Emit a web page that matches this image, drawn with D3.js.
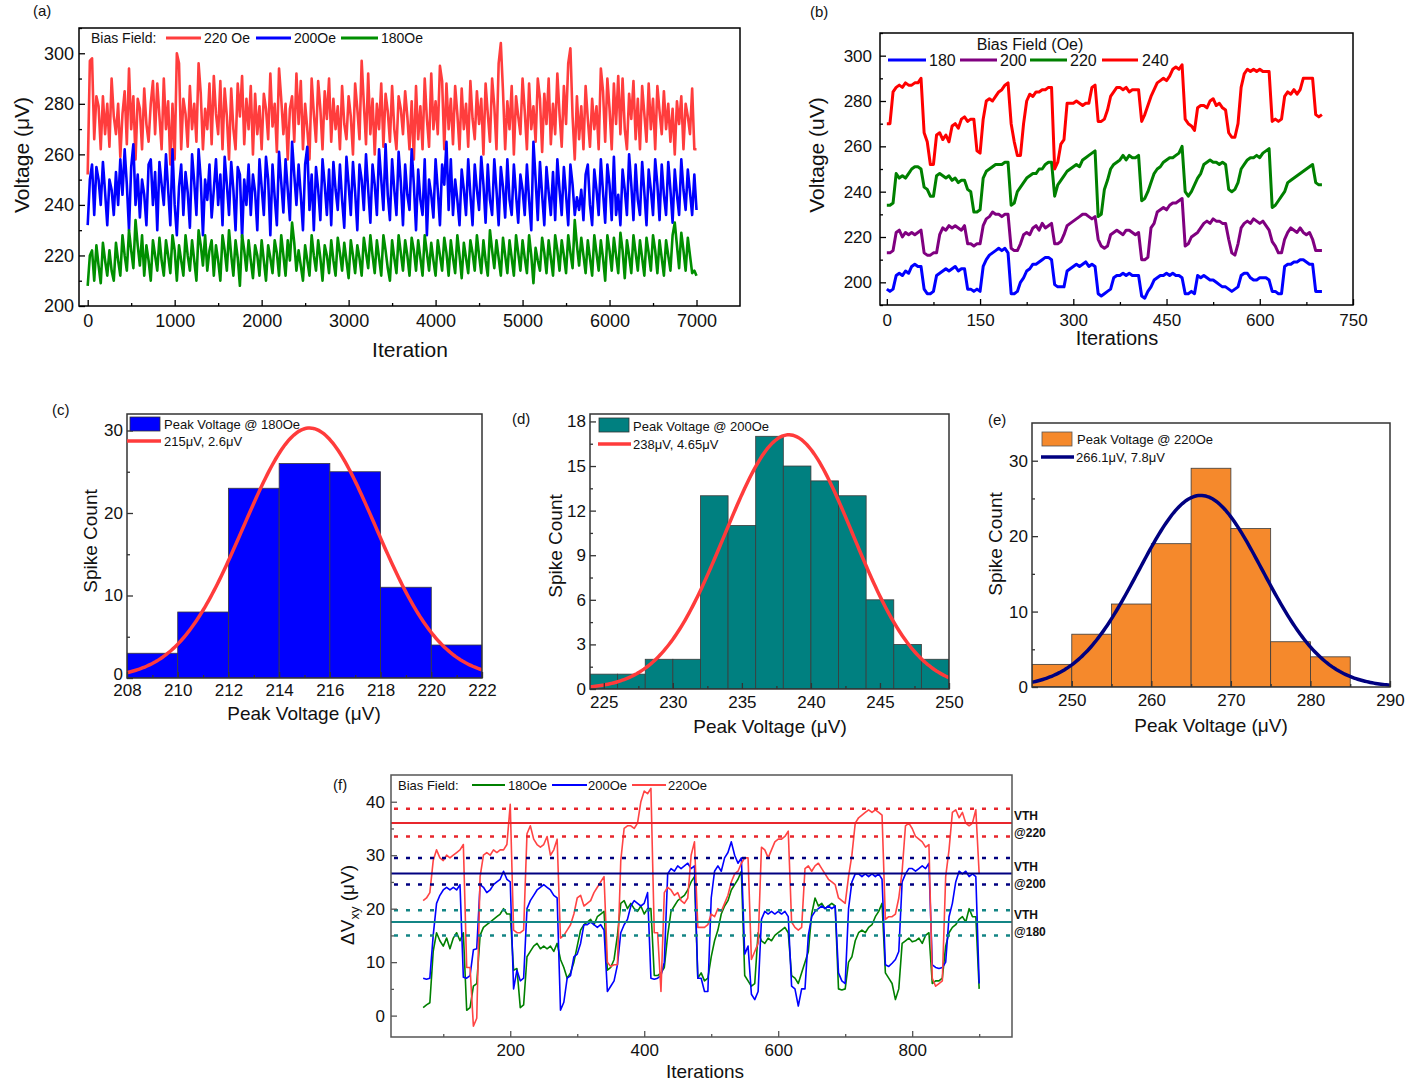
<!DOCTYPE html>
<html><head><meta charset="utf-8">
<script src="https://cdn.jsdelivr.net/npm/d3@7"></script>
<style>body{margin:0;background:#fff}svg{display:block}</style>
</head><body>
<svg id="c" width="1419" height="1087"></svg>
<script>
// ---------------- DATA ----------------
// (a) voltage vs iteration, sampled every 25 iterations from 0 to 7000
const aStart = 0, aStep = 25;
const aRed220 = [
252,297,298,266,283,279,262,283,268,280,
263,290,275,268,280,259,276,285,264,294,
270,283,258,282,278,262,286,272,265,280,
289,268,288,275,262,290,270,281,256,280,
258,300,296,262,282,276,263,287,270,280,
265,296,284,262,278,270,288,264,291,276,
268,289,262,286,275,258,286,270,262,288,
275,291,264,282,270,287,260,284,268,279,
262,284,278,266,292,271,280,261,294,282,
268,280,258,278,283,265,292,272,289,262,
280,270,258,290,276,265,289,278,262,285,
274,290,265,282,270,279,262,287,272,266,
283,275,260,288,278,266,297,280,264,292,
268,282,260,280,270,288,263,284,277,265,
287,270,262,283,278,268,285,275,262,281,
258,287,266,279,262,290,274,263,292,270,
281,268,295,289,262,288,270,282,264,287,
276,262,286,270,280,263,289,274,266,285,
272,282,260,288,276,265,290,279,262,296,
304,285,262,281,270,287,260,283,275,268,
290,277,262,288,270,279,265,290,282,261,
284,272,290,264,280,268,292,276,263,287,
272,296,302,275,258,283,266,279,262,287,
274,263,282,270,279,262,294,285,265,290,
278,262,288,272,291,268,290,270,262,284,
274,289,266,282,262,287,276,265,288,270,
282,262,287,277,268,285,270,280,265,278,
260,281,272,283,262,280,275,268,286,262,
262];
const aBlue200 = [
232,250,256,236,255,250,240,257,245,232,
250,246,236,253,240,258,244,262,248,230,
255,264,240,252,235,250,244,232,256,258,
240,253,230,257,248,240,260,246,232,262,
240,228,247,256,236,253,245,231,260,249,
236,262,250,228,250,242,256,235,246,258,
240,252,232,259,248,236,257,246,230,255,
252,227,250,240,256,236,252,245,230,258,
247,236,259,250,228,256,243,232,261,249,
237,258,246,234,265,252,240,256,244,230,
256,263,238,252,230,255,246,234,258,248,
236,254,232,257,246,238,256,242,231,259,
248,236,257,245,230,256,250,238,260,246,
233,256,248,236,262,250,238,264,244,234,
258,246,236,261,249,232,256,244,238,262,
248,230,254,242,236,258,228,250,244,235,
258,246,232,256,248,265,238,258,236,250,
242,232,254,246,236,258,244,232,256,246,
238,259,248,233,256,242,236,258,246,232,
255,247,235,258,242,236,256,244,233,252,
246,236,256,242,230,265,250,234,257,244,
232,255,245,236,253,234,258,246,236,255,
244,232,256,248,236,243,238,246,234,252,
256,240,232,254,246,236,258,245,233,256,
248,234,259,236,244,232,254,246,236,260,
248,234,256,242,236,257,245,232,254,246,
236,258,248,234,256,244,236,257,246,233,
254,244,236,258,246,238,254,245,236,252,
238];
const aGreen180 = [
208,220,222,210,224,216,209,225,218,212,
222,214,210,225,218,212,228,220,214,230,
222,215,234,224,216,228,212,224,218,210,
226,220,214,227,218,212,226,220,213,228,
222,210,224,218,212,228,220,214,226,218,
210,230,224,216,228,214,222,226,212,224,
218,210,228,222,214,230,220,212,226,219,
208,228,222,214,226,218,211,224,220,212,
226,218,210,224,219,213,226,221,212,228,
220,212,226,218,233,225,214,222,216,210,
224,218,212,228,220,214,226,219,210,224,
220,213,226,218,212,227,221,214,225,218,
211,226,220,213,224,219,212,227,221,215,
228,220,213,226,219,212,228,222,215,210,
226,219,213,228,221,214,226,220,212,227,
222,214,226,219,212,228,221,214,225,218,
212,226,220,214,227,221,212,226,219,213,
228,220,211,225,219,213,226,221,214,228,
220,213,226,218,212,230,222,215,226,219,
212,227,220,213,226,219,212,228,221,214,
226,219,213,228,220,209,223,218,214,227,
221,213,226,219,212,228,222,214,226,220,
213,228,221,215,234,224,216,227,220,213,
226,219,212,228,221,214,226,219,210,228,
222,214,227,220,213,229,222,211,226,220,
213,228,221,214,226,219,212,227,221,214,
228,222,213,226,219,212,226,220,214,228,
233,224,215,229,222,214,227,220,213,214,
212];
const aLegend = ["220 Oe","200Oe","180Oe"];

// (b) voltage vs iterations, sampled every 5 iterations from 0 to 700
const bStart = 0, bStep = 5;
const b180 = [
197,196,197,203,204,203,205,204,207,208,
207,207,197,195,195,196,203,204,205,206,
205,206,207,205,206,206,197,197,196,197,
196,207,210,212,213,214,215,214,215,213,
195,195,196,200,202,205,206,208,208,209,
210,211,211,210,199,198,198,198,205,206,
207,208,207,208,209,207,208,207,195,194,
195,196,197,202,203,203,204,203,204,203,
203,203,194,193,196,198,201,202,203,203,
204,203,204,203,203,202,195,195,196,195,
203,202,203,202,201,201,200,199,198,198,
197,196,197,198,203,204,204,202,201,201,
202,202,202,201,196,196,195,195,207,208,
208,209,209,210,210,209,208,208,196,196,
196];
const b200 = [
213,213,214,222,223,220,222,221,222,221,
222,223,213,212,212,213,213,221,224,223,
225,224,225,224,223,225,217,217,216,217,
217,225,228,229,231,230,230,229,230,230,
215,214,214,217,221,222,221,224,225,223,
226,224,225,226,217,217,218,221,225,226,
227,228,229,230,230,229,228,229,219,216,
215,216,221,222,223,222,221,223,223,222,
221,222,210,210,211,224,226,231,232,233,
232,234,235,235,236,237,216,217,220,221,
222,224,226,227,226,228,227,227,226,226,
219,213,212,217,224,226,227,226,228,227,
226,227,225,223,218,216,213,213,219,222,
224,223,222,224,222,221,222,219,214,214,
214];
const b220 = [
234,234,235,248,246,247,246,248,250,251,
251,250,242,241,238,238,247,248,247,246,
247,245,246,244,245,245,241,240,231,231,
232,246,249,250,251,252,252,252,253,253,
234,235,240,242,244,246,247,248,248,250,
250,252,253,253,238,243,245,247,249,250,
251,252,251,254,255,256,257,258,229,230,
241,245,250,252,253,254,256,254,256,255,
255,256,236,237,240,244,248,250,251,253,
254,255,255,256,257,260,240,238,240,243,
246,248,252,253,254,253,253,252,253,252,
241,240,241,244,250,252,254,255,255,256,
255,257,258,259,233,234,236,238,240,244,
245,246,247,248,249,250,251,252,244,243,
243];
const b240 = [
270,270,284,286,287,286,288,287,287,288,
288,290,266,262,252,252,265,266,263,265,
262,269,270,268,272,273,271,272,272,258,
257,272,280,281,280,282,284,285,287,288,
270,262,256,256,270,280,283,282,284,284,
285,285,286,286,250,253,261,263,279,279,
279,280,279,278,279,279,286,287,271,271,
272,276,282,284,286,286,285,286,284,285,
285,285,271,274,278,282,285,288,289,290,
289,291,294,295,294,296,272,270,269,267,
277,278,278,277,280,281,278,279,277,276,
266,264,264,270,286,292,294,293,294,293,
294,293,293,293,271,272,271,272,282,284,
283,285,283,285,290,290,290,290,274,273,
274];
const bLegend = ["180","200","220","240"];

// (c)(d)(e) histograms of peak voltage
const cEdges = [208,210,212,214,216,218,220,222];
const cCounts = [3,8,23,26,25,11,4];
const cFit = {mean:215.2, sigma:2.6, amp:30.3};
const dEdges = [224,226,228,230,232,234,236,238,240,242,244,246,248,250];
const dCounts = [1,1,2,2,13,11,17,15,14,13,6,3,2];
const dFit = {mean:238.4, sigma:4.65, amp:17.1};
const eEdges = [245,250,255,260,265,270,275,280,285];
const eCounts = [3,7,11,19,29,21,6,4];
const eFit = {mean:266.2, sigma:7.8, amp:25.4};

// (f) ΔVxy vs iterations, sampled every 5 iterations from 70 to 900
const fStart = 70, fStep = 5;
const f180 = [
1.5,2,2.4,12,15.5,14,13,14.5,12.5,14.5,
15.5,14,15.5,1,1.5,5.5,6,15,16.5,17,
17.5,18,18.5,19,20,19,19,8.5,8.8,1.5,
2,11,12,13,13.5,12.5,13,12.5,13,12,
13.5,10.5,9,7,8,10,13,16,17,17.5,
18,17,18.5,19,19.5,8.5,9,10.5,15,21,
21.5,20,21,20,19.5,20.5,19,20,20,7.5,
7.5,8,9,15,19.5,20.5,21.5,22,22.5,23.5,
25,26,7,8,6.5,7,11,14,16,19,
20.5,21.5,23.5,24.5,25.5,27,7.5,6.5,5.5,6,
15.5,14,13.5,14.5,14,15,15.5,16,16.5,15.5,
7.5,7,6,8,10,12,19,22,20.5,21,
20,20.5,21,20.5,5,4.8,5,10,11,14,
15.5,16,15.5,16.5,17,18.5,19.5,21,8,7,
6,3,5,13.5,14,14.5,13.8,14,14.5,13.5,
15,15.5,6,6.5,6.5,7,13,15.5,16.5,17,
18,18.5,17.5,20,18.5,18.5,5];
const f200 = [
7,6.8,7,15,21,22.5,23.5,24,23.5,24,
23.5,24.5,7.2,7,7.5,12.3,12.5,24.5,24,23,
23.5,24.5,25,25.5,27,25.5,25,5,8.5,6.5,
7,20,21.5,22.5,23.5,24,24.5,24,23.5,22.5,
22,1,2.5,7,7.5,11,11.5,13.5,17,17,
17.5,17,16.5,17,16,4.5,5.5,6.5,9.5,15.5,
17,18,20.5,21.5,21,20.5,21,23,7,6.8,
7,7.5,10,26.5,27.5,27,28,27.5,28,28.5,
27.5,28,7,7,4.5,4.5,22,27,28,27,
29.5,30.5,32.5,30,28.5,29.5,11.5,13,4,3,
4.5,18,19.5,19,19.5,19,19.5,19,19.5,18.5,
5.5,5,1.8,5,5,15,18.5,19.5,20,20.5,
20,20.5,20,20.5,8,6.5,6,20,25,26.5,
26.5,26,26.5,26,26.5,26,26.5,25.5,9.5,9.2,
9.8,10.5,12,25,26.5,27.5,27.5,27,27.5,28,
27.5,28.5,9.5,9,8.8,9,10,18.5,21,25,
27,26.5,27,26,26.5,26,6];
const f220 = [
21.5,22,23,29,31,29.5,29,30,29.5,30,
30.5,31,32,9,9,-2,-0.5,26,30,30.5,
30,31,30.5,31,31,32,39.5,16,15.5,15.5,
16,34,35.5,33,32,31.5,32,33.5,30,31,
33,14.5,15,16,17,19,22,22.5,20.5,21,
21.5,23,24,25,26,10,9.2,9.5,9.5,29,
35,35.5,35.5,35,36,40,42,41.5,42.5,15.5,
15.5,4.5,23,24,23.5,22.5,23,21.5,21,22,
30,32.5,16.5,16.5,16.5,17,19,18.5,20,19.5,
21,22.5,25,26.5,27,28.5,29.5,29.5,10.5,12,
13.5,31.5,31,29.5,31,32.5,33,33,33.5,34.5,
17.5,16.5,16,16.5,27.5,28,27,28,28.5,27.5,
26.5,25.5,25,24.5,22,21.5,21,26,30,36,
37,37.5,38,38.5,38,38.5,38,37.5,18,18.5,
18.5,19,22,27,35.5,36,35,33.5,33,32.5,
31.5,32,7,5.5,6,6.5,26,31,38,38.5,
37,38,36,35.5,36,38.5,26.5];
const fLegend = ["180Oe","200Oe","220Oe"];
// thresholds: [mean, upper, lower]
const fVth220 = [36.0, 38.7, 33.5];
const fVth200 = [26.6, 29.5, 24.5];
const fVth180 = [17.5, 19.7, 15.0];
const fVthLabels = [["VTH","@220"],["VTH","@200"],["VTH","@180"]];

// ---------------- DRAWING ----------------
const FONT = '"Liberation Sans", Arial, Helvetica, sans-serif';
const svg = d3.select("#c");

function panel(o){
  const x = d3.scaleLinear().domain(o.xd).range([o.l, o.r]);
  const y = d3.scaleLinear().domain(o.yd).range([o.b, o.t]);
  const g = svg.append("g");
  const cid = "clip-" + o.id;
  g.append("clipPath").attr("id", cid).append("rect")
    .attr("x", o.l).attr("y", o.t).attr("width", o.r - o.l).attr("height", o.b - o.t);
  const plot = g.append("g").attr("clip-path", `url(#${cid})`);
  const over = g.append("g");
  return {x, y, g, plot, over, o};
}
function styleAxis(sel, col, fs){
  sel.attr("font-size", null).attr("font-family", null);
  sel.select(".domain").remove();
  sel.selectAll("line").attr("stroke", col).attr("stroke-width", 1.3);
  sel.selectAll("text").attr("font-size", fs).attr("font-family", FONT).attr("fill", "#111");
}
function finish(p){
  const o = p.o, g = p.over, col = o.frame || "#000";
  let s = g.append("g").attr("transform", `translate(0,${o.b})`)
    .call(d3.axisBottom(p.x).tickValues(o.xMinor).tickSize(-3).tickFormat(""));
  styleAxis(s, col, o.fs);
  s = g.append("g").attr("transform", `translate(0,${o.b})`)
    .call(d3.axisBottom(p.x).tickValues(o.xMajor).tickSize(-6).tickPadding(o.xPad).tickFormat(d => d));
  styleAxis(s, col, o.fs);
  s = g.append("g").attr("transform", `translate(${o.l},0)`)
    .call(d3.axisLeft(p.y).tickValues(o.yMinor).tickSize(-3).tickFormat(""));
  styleAxis(s, col, o.fs);
  s = g.append("g").attr("transform", `translate(${o.l},0)`)
    .call(d3.axisLeft(p.y).tickValues(o.yMajor).tickSize(-6).tickPadding(o.yPad).tickFormat(d => d));
  styleAxis(s, col, o.fs);
  if (o.zeroLift) s.selectAll("text").filter(d => d === 0).attr("y", -o.zeroLift);
  g.append("rect").attr("x", o.l).attr("y", o.t).attr("width", o.r - o.l).attr("height", o.b - o.t)
    .attr("fill", "none").attr("stroke", col).attr("stroke-width", 1.5);
}
function text(x, y, str, fs, opts = {}){
  const t = svg.append("text").attr("x", x).attr("y", y).attr("dy", "0.35em")
    .attr("font-family", FONT).attr("font-size", fs).attr("fill", opts.fill || "#111")
    .attr("text-anchor", opts.anchor || "start").text(str);
  if (opts.bold) t.attr("font-weight", "bold");
  return t;
}
function vtext(x, y, str, fs){
  return svg.append("text").attr("transform", `translate(${x},${y}) rotate(-90)`).attr("dy", "0.35em")
    .attr("font-family", FONT).attr("font-size", fs).attr("fill", "#111").attr("text-anchor", "middle").text(str);
}
function legLine(x1, x2, y, col, w){
  svg.append("line").attr("x1", x1).attr("x2", x2).attr("y1", y).attr("y2", y)
    .attr("stroke", col).attr("stroke-width", w);
}
function series(p, vals, start, step, col, w){
  const line = d3.line().x((d, i) => p.x(start + i * step)).y(d => p.y(d));
  p.plot.append("path").datum(vals).attr("d", line).attr("fill", "none")
    .attr("stroke", col).attr("stroke-width", w).attr("stroke-linejoin", "round");
}
const range = (a, b, s) => d3.range(a, b + s / 2, s);

// ----- (a)
{
  const p = panel({id:"a", l:79, r:740, t:28, b:306, xd:[-100,7500], yd:[200,310],
    xMajor:range(0,7000,1000), xMinor:range(500,7000,1000), yMajor:range(200,300,20), yMinor:range(210,310,20),
    fs:18, xPad:8, yPad:5});
  series(p, aRed220, aStart, aStep, "#ff3d3d", 2.6);
  series(p, aBlue200, aStart, aStep, "#0000ff", 2.6);
  series(p, aGreen180, aStart, aStep, "#008f00", 2.6);
  finish(p);
  text(91, 38, "Bias Field:", 14);
  legLine(166, 201, 38, "#ff3d3d", 3); text(204, 38, aLegend[0], 14);
  legLine(256, 291, 38, "#0000ff", 3); text(294, 38, aLegend[1], 14);
  legLine(341, 378, 38, "#008f00", 3); text(381, 38, aLegend[2], 14);
  vtext(22, 155, "Voltage (\u03bcV)", 21);
  text(410, 350, "Iteration", 21, {anchor:"middle"});
  text(33, 11, "(a)", 15);
}
// ----- (b)
{
  const p = panel({id:"b", l:880, r:1353, t:33, b:305, xd:[-11,750], yd:[190,310],
    xMajor:range(0,750,150), xMinor:range(75,750,150), yMajor:range(200,300,20), yMinor:range(190,310,20),
    fs:17, xPad:9, yPad:8});
  series(p, b180, bStart, bStep, "#0000ff", 3);
  series(p, b200, bStart, bStep, "#800080", 3);
  series(p, b220, bStart, bStep, "#008000", 3);
  series(p, b240, bStart, bStep, "#ff0000", 3);
  finish(p);
  text(1030, 44, "Bias Field (Oe)", 16, {anchor:"middle"});
  legLine(888, 926, 60, "#0000ff", 3); text(929, 60, bLegend[0], 16);
  legLine(960, 997, 60, "#800080", 3); text(1000, 60, bLegend[1], 16);
  legLine(1030, 1067, 60, "#008000", 3); text(1070, 60, bLegend[2], 16);
  legLine(1102, 1138, 60, "#ff0000", 3); text(1142, 60, bLegend[3], 16);
  vtext(817, 155, "Voltage (uV)", 21);
  text(1117, 338, "Iterations", 20, {anchor:"middle"});
  text(810, 12, "(b)", 15);
}
// ----- histograms
function hist(cfg){
  const p = panel(cfg);
  p.plot.selectAll("rect.bar").data(cfg.counts).join("rect").attr("class", "bar")
    .attr("x", (d, i) => p.x(cfg.edges[i]))
    .attr("width", (d, i) => p.x(cfg.edges[i + 1]) - p.x(cfg.edges[i]))
    .attr("y", d => p.y(d)).attr("height", d => p.y(0) - p.y(d))
    .attr("fill", cfg.fill).attr("stroke", "#3a3a3a").attr("stroke-width", 0.8);
  const f = cfg.fit;
  const xs = d3.range(cfg.xd[0], cfg.xd[1] + 0.001, (cfg.xd[1] - cfg.xd[0]) / 200);
  const line = d3.line().x(d => p.x(d)).y(d => p.y(f.amp * Math.exp(-0.5 * ((d - f.mean) / f.sigma) ** 2)));
  p.plot.append("path").datum(xs).attr("d", line).attr("fill", "none")
    .attr("stroke", cfg.curve).attr("stroke-width", 3.5);
  finish(p);
  return p;
}
{
  hist({id:"c", l:127, r:482, t:414, b:678, xd:[208,222], yd:[0,32],
    xMajor:range(208,222,2), xMinor:range(209,221,2), yMajor:[0,10,20,30], yMinor:[5,15,25],
    fs:17, xPad:6, yPad:4, zeroLift:4, frame:"#333", edges:cEdges, counts:cCounts, fit:cFit, fill:"#0000ff", curve:"#ff3b3b"});
  svg.append("rect").attr("x",130).attr("y",417).attr("width",30).attr("height",14).attr("fill","#0000ff").attr("stroke","#333").attr("stroke-width",0.8);
  text(164, 424, "Peak Voltage @ 180Oe", 13);
  legLine(127, 161, 441, "#ff3b3b", 3.5); text(164, 441, "215\u03bcV, 2.6\u03bcV", 13);
  vtext(90, 541, "Spike Count", 19);
  text(304, 713, "Peak Voltage (\u03bcV)", 19, {anchor:"middle"});
  text(52, 410, "(c)", 15);
}
{
  hist({id:"d", l:590, r:949, t:414, b:689, xd:[224,250], yd:[0,18.5],
    xMajor:range(225,250,5), xMinor:range(227.5,247.5,5), yMajor:range(0,18,3), yMinor:range(1.5,16.5,3),
    fs:17, xPad:7, yPad:4, frame:"#333", edges:dEdges, counts:dCounts, fit:dFit, fill:"#008080", curve:"#ff3b3b"});
  svg.append("rect").attr("x",599).attr("y",418).attr("width",30).attr("height",14).attr("fill","#008080").attr("stroke","#333").attr("stroke-width",0.8);
  text(633, 426, "Peak Voltage @ 200Oe", 13);
  legLine(598, 631, 444, "#ff3b3b", 3.5); text(633, 444, "238\u03bcV, 4.65\u03bcV", 13);
  vtext(555, 546, "Spike Count", 19);
  text(770, 726, "Peak Voltage (\u03bcV)", 19, {anchor:"middle"});
  text(512, 419, "(d)", 15);
}
{
  hist({id:"e", l:1032, r:1390, t:423, b:687, xd:[245,290], yd:[0,35],
    xMajor:range(250,290,10), xMinor:range(255,285,10), yMajor:[0,10,20,30], yMinor:[5,15,25],
    fs:17, xPad:7, yPad:4, frame:"#333", edges:eEdges, counts:eCounts, fit:eFit, fill:"#f5892c", curve:"#000080"});
  svg.append("rect").attr("x",1042).attr("y",432).attr("width",30).attr("height",14).attr("fill","#f5892c").attr("stroke","#555").attr("stroke-width",0.8);
  text(1077, 439, "Peak Voltage @ 220Oe", 13);
  legLine(1041, 1074, 457, "#000080", 3.5); text(1076, 457, "266.1\u03bcV, 7.8\u03bcV", 13);
  vtext(995, 544, "Spike Count", 19);
  text(1211, 725, "Peak Voltage (\u03bcV)", 19, {anchor:"middle"});
  text(988, 420, "(e)", 15);
}
// ----- (f)
{
  const p = panel({id:"f", l:391, r:1012, t:775, b:1037, xd:[22,949], yd:[-4,45],
    xMajor:[200,400,600,800], xMinor:[100,300,500,700,900], yMajor:[0,10,20,30,40], yMinor:[5,15,25,35],
    fs:17, xPad:7, yPad:6, frame:"#555"});
  series(p, f180, fStart, fStep, "#008000", 1.6);
  series(p, f200, fStart, fStep, "#0000ff", 1.6);
  series(p, f220, fStart, fStep, "#ff4444", 1.6);
  const thr = [[fVth220, "#e8262c"], [fVth200, "#000080"], [fVth180, "#138585"]];
  thr.forEach(([v, c]) => {
    p.plot.append("line").attr("x1", p.x.range()[0]).attr("x2", p.x.range()[1])
      .attr("y1", p.y(v[0])).attr("y2", p.y(v[0])).attr("stroke", c).attr("stroke-width", 2);
    [v[1], v[2]].forEach(dv => p.plot.append("line").attr("x1", p.x.range()[0] + 3).attr("x2", p.x.range()[1])
      .attr("y1", p.y(dv)).attr("y2", p.y(dv)).attr("stroke", c).attr("stroke-width", 2.5)
      .attr("stroke-dasharray", "4,8"));
  });
  finish(p);
  [fVth220, fVth200, fVth180].forEach((v, i) => {
    const ym = p.y(v[0]);
    text(1014, ym - 7, fVthLabels[i][0], 12, {bold:true});
    text(1014, ym + 10, fVthLabels[i][1], 12, {bold:true});
  });
  text(398, 785, "Bias Field:", 13);
  legLine(472, 505, 785, "#008000", 2); text(508, 785, fLegend[0], 13);
  legLine(552, 587, 785, "#0000ff", 2); text(588, 785, fLegend[1], 13);
  legLine(632, 666, 785, "#ff4444", 2); text(668, 785, fLegend[2], 13);
  const yt = svg.append("text").attr("transform", "translate(347,905) rotate(-90)").attr("dy", "0.35em")
    .attr("font-family", FONT).attr("font-size", 19).attr("fill", "#111").attr("text-anchor", "middle");
  yt.append("tspan").text("\u0394V");
  yt.append("tspan").attr("font-size", 13).attr("dy", 5).text("xy");
  yt.append("tspan").attr("dy", -5).text(" (\u03bcV)");
  text(705, 1071, "Iterations", 19, {anchor:"middle"});
  text(333, 785, "(f)", 15);
}
</script>
</body></html>
